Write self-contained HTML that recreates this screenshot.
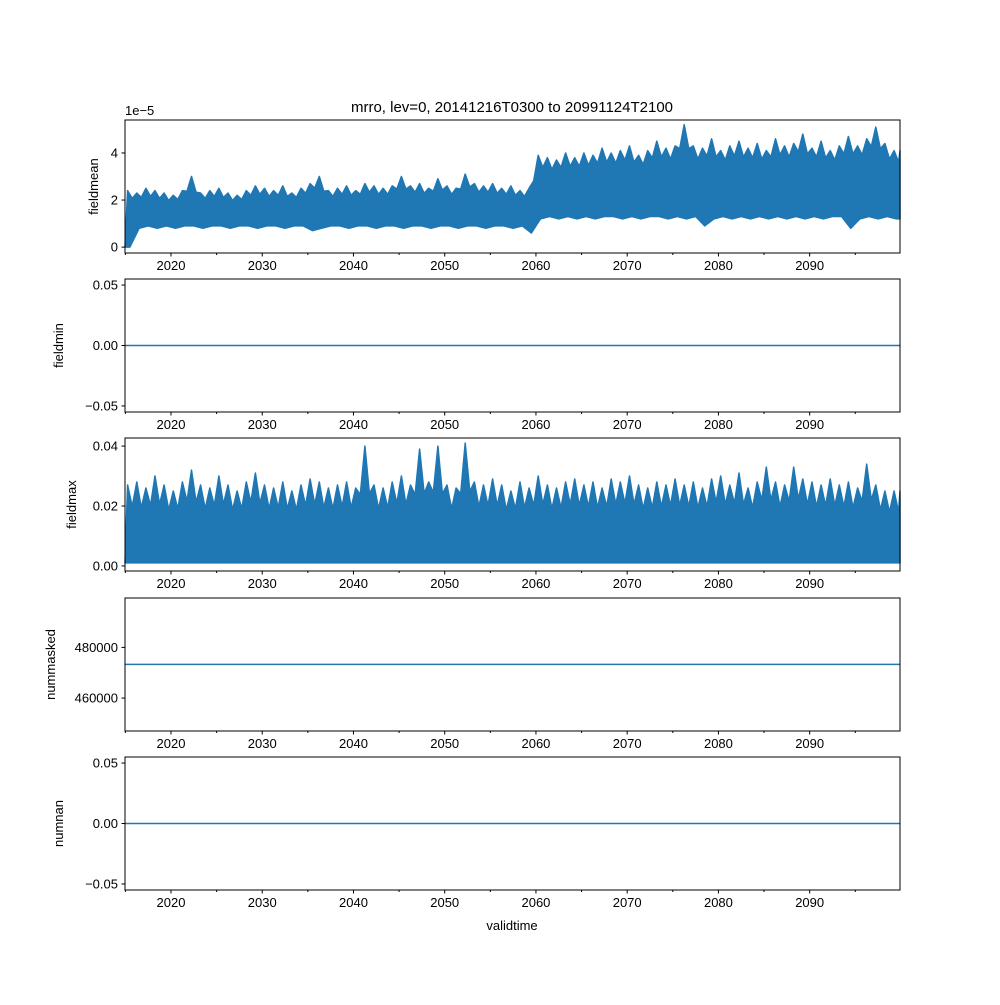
<!DOCTYPE html>
<html><head><meta charset="utf-8">
<style>
body{margin:0;background:#fff;}
svg text{font-family:"Liberation Sans",sans-serif;font-size:13px;fill:#000;}
</style></head>
<body>
<svg id="chart" width="1000" height="1000" xmlns="http://www.w3.org/2000/svg">
<rect width="1000" height="1000" fill="#fff"/>
<text x="512" y="112" text-anchor="middle" style="font-size:15px">mrro, lev=0, 20141216T0300 to 20991124T2100</text>
<text x="512" y="930" text-anchor="middle">validtime</text>
</svg>
<script>
const years = [];
for (let y = 2015; y <= 2099; y++) years.push(y);
const xTicks = [2020,2030,2040,2050,2060,2070,2080,2090];
const fieldmeanUpper = [2.4,2.3,2.5,2.4,2.3,2.2,2.4,3.0,2.3,2.4,
 2.5,2.3,2.2,2.4,2.6,2.5,2.4,2.6,2.3,2.5,
 2.7,3.0,2.4,2.5,2.6,2.4,2.7,2.6,2.5,2.6,
 3.0,2.6,2.7,2.5,2.9,2.6,2.5,3.1,2.7,2.6,
 2.7,2.5,2.6,2.4,2.5,3.9,3.8,3.7,4.0,3.8,
 4.0,3.9,4.2,4.0,4.1,4.3,3.9,4.1,4.5,4.2,
 4.3,5.2,4.3,4.2,4.6,4.1,4.3,4.5,4.2,4.4,
 4.1,4.6,4.3,4.4,4.8,4.2,4.5,4.1,4.3,4.7,
 4.3,4.6,5.1,4.4,4.1];
const fieldmeanLower = [0.0,0.8,0.9,0.8,0.9,0.8,0.9,0.9,0.8,0.9,
 0.9,0.8,0.9,0.9,0.8,0.9,0.9,0.8,0.9,0.9,
 0.7,0.8,0.9,0.9,0.8,0.9,0.9,0.8,0.9,0.9,
 0.8,0.9,0.9,0.8,0.9,0.9,0.8,0.9,0.9,0.8,
 0.9,0.9,0.8,0.9,0.6,1.2,1.3,1.2,1.3,1.2,
 1.3,1.2,1.3,1.3,1.2,1.3,1.2,1.3,1.3,1.2,
 1.3,1.2,1.3,0.9,1.2,1.3,1.2,1.3,1.2,1.3,
 1.2,1.3,1.2,1.3,1.2,1.3,1.2,1.3,1.3,0.8,
 1.2,1.3,1.2,1.3,1.2];
const fieldmaxUpper = [0.027,0.028,0.026,0.030,0.027,0.025,0.028,0.032,0.027,0.026,
 0.030,0.027,0.025,0.028,0.031,0.027,0.026,0.028,0.025,0.027,
 0.029,0.028,0.026,0.027,0.028,0.026,0.040,0.027,0.026,0.028,
 0.030,0.027,0.039,0.028,0.040,0.027,0.026,0.041,0.028,0.027,
 0.029,0.027,0.025,0.028,0.026,0.030,0.027,0.026,0.028,0.029,
 0.027,0.028,0.026,0.029,0.028,0.030,0.027,0.026,0.028,0.027,
 0.029,0.027,0.028,0.026,0.029,0.030,0.027,0.031,0.026,0.028,
 0.033,0.028,0.027,0.033,0.029,0.028,0.027,0.029,0.027,0.028,
 0.026,0.034,0.027,0.025,0.025];
const fieldmaxLower = years.map(() => 0.001);
const fieldminValue = 0;
const nummaskedValue = 473300;
const numnanValue = 0;

const svg = document.getElementById('chart');
const NS = 'http://www.w3.org/2000/svg';
const X0 = 125, X1 = 900, T0 = 2014.96, T1 = 2099.9;
const xScale = t => X0 + (t - T0) / (T1 - T0) * (X1 - X0);
const C = '#1f77b4';

function el(tag, attrs, parent) {
  const e = document.createElementNS(NS, tag);
  for (const k in attrs) e.setAttribute(k, attrs[k]);
  (parent || svg).appendChild(e);
  return e;
}

const panels = [
  {name:'fieldmean', top:120, bot:253, ymin:-0.25, ymax:5.4, ticks:[0,2,4], labels:['0','2','4'], upper:fieldmeanUpper, lower:fieldmeanLower, exp:'1e\u22125', lx:98, mid:0.88},
  {name:'fieldmin', top:279, bot:412, ymin:-0.055, ymax:0.055, ticks:[-0.05,0,0.05], labels:['\u22120.05','0.00','0.05'], flat:fieldminValue, lx:63},
  {name:'fieldmax', top:438, bot:571, ymin:-0.0017, ymax:0.0427, ticks:[0,0.02,0.04], labels:['0.00','0.02','0.04'], upper:fieldmaxUpper, lower:fieldmaxLower, lx:76, mid:0.72},
  {name:'nummasked', top:598, bot:731, ymin:447000, ymax:499500, ticks:[460000,480000], labels:['460000','480000'], flat:nummaskedValue, lx:55},
  {name:'numnan', top:757, bot:890, ymin:-0.055, ymax:0.055, ticks:[-0.05,0,0.05], labels:['\u22120.05','0.00','0.05'], flat:numnanValue, lx:63}
];

panels.forEach(p => {
  const g = el('g', {});
  
  
  const yScale = v => p.bot - (v - p.ymin) / (p.ymax - p.ymin) * (p.bot - p.top);
  if (p.upper) {
    const n = years.length;
    let d = 'M' + X0 + ',' + yScale(p.lower[0]).toFixed(1);
    years.forEach((y, i) => {
      d += 'L' + xScale(y + 0.25).toFixed(1) + ',' + yScale(p.upper[i]).toFixed(1);
      d += 'L' + xScale(y + 0.75).toFixed(1) + ',' + yScale((p.upper[i] + p.upper[Math.min(i + 1, n - 1)]) / 2 * p.mid).toFixed(1);
    });
    d += 'L' + X1 + ',' + yScale(p.upper[n - 1]).toFixed(1);
    d += 'L' + X1 + ',' + yScale(p.lower[n - 1]).toFixed(1);
    for (let i = n - 1; i >= 0; i--) {
      d += 'L' + xScale(years[i] + 0.5).toFixed(1) + ',' + yScale(p.lower[i]).toFixed(1);
    }
    d += 'L' + X0 + ',' + yScale(p.lower[0]).toFixed(1) + 'Z';
    const band = el('path', {d: d, fill: C, stroke: C, 'stroke-width': 1.5, 'stroke-linejoin': 'round'}, g);
    
    
  } else {
    const ln = el('line', {x1: X0, x2: X1, y1: yScale(p.flat), y2: yScale(p.flat), stroke: C, 'stroke-width': 1.5}, g);
    
    
  }
  const fr = el('rect', {x: X0, y: p.top, width: X1 - X0, height: p.bot - p.top, fill: 'none', stroke: '#000', 'stroke-width': 1}, g);
  
  
  p.ticks.forEach((v, i) => {
    const y = yScale(v);
    el('line', {x1: X0 - 3.5, x2: X0, y1: y, y2: y, stroke: '#000'}, g);
    const t = el('text', {x: X0 - 7, y: y + 4.5, 'text-anchor': 'end'}, g);
    t.textContent = p.labels[i];
    
    
  });
  xTicks.forEach(yr => {
    const x = xScale(yr);
    el('line', {x1: x, x2: x, y1: p.bot, y2: p.bot + 3.5, stroke: '#000'}, g);
    const t = el('text', {x: x, y: p.bot + 17, 'text-anchor': 'middle'}, g);
    t.textContent = yr;
    
    
  });
  for (let yr = 2015; yr <= 2095; yr += 10) {
    const x = xScale(yr);
    el('line', {x1: x, x2: x, y1: p.bot, y2: p.bot + 2, stroke: '#000'}, g);
  }
  const cy = (p.top + p.bot) / 2;
  const lab = el('text', {x: p.lx, y: cy, 'text-anchor': 'middle', transform: 'rotate(-90 ' + p.lx + ' ' + cy + ')'}, g);
  lab.textContent = p.name;
  
  
  if (p.exp) {
    const ex = el('text', {x: X0, y: p.top - 5}, g);
    ex.textContent = p.exp;
    
    
  }
});
</script>
</body></html>
